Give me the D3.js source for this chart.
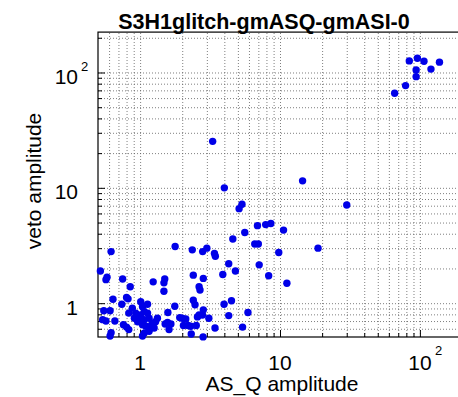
<!DOCTYPE html>
<html><head><meta charset="utf-8">
<script src="https://cdn.jsdelivr.net/npm/d3@7"></script>
<style>body{margin:0;background:#fff}svg{display:block}text{font-family:"Liberation Sans",Arial,Helvetica,sans-serif;fill:#000}</style>
</head><body><svg id="c" width="458" height="397"></svg>
<script>
const title = "S3H1glitch-gmASQ-gmASI-0";
const xLabel = "AS_Q amplitude";
const yLabel = "veto amplitude";
const xDomain = [0.5, 200];
const yDomain = [0.509, 224];
const majorTicks = [1, 10, 100];
const tickBase = ["1", "10", "10"];
const tickExp = ["", "", "2"];

const asqAmp = [84,96,107,138,94,120,94,79,66,14.5,3.3,4.0,30,8.6,10.6,9.8,18.7,8.3,11.2,5.1,5.35,5.6,4.6,6.9,7.9,6.6,7.0,7.1,
  0.62,1.78,2.36,2.8,3.0,3.4,3.45,4.3,3.9,4.8,0.52,0.57,0.58,0.75,0.85,1.24,1.5,1.48,1.48,2.4,2.83,2.64,2.68,
  0.64,0.82,0.80,0.74,1.01,1.13,0.55,0.61,0.54,0.57,0.66,0.76,0.80,0.83,0.62,0.61,1.04,1.07,
  1.58,1.77,1.57,1.66,1.61,1.51,1.92,2.0,2.12,2.04,2.2,2.3,2.4,2.47,2.83,2.79,2.57,2.64,3.1,2.52,2.32,2.82,3.43,3.98,4.5,4.3,5.9,5.4,
  0.88,0.93,1.01,1.07,0.98,1.07,1.13,1.16,0.91,0.96,1.04,1.1,1.19,1.22,1.29,1.33,1.26,1.16,1.04,0.83];
const vetoAmp = [126,133,125,123,105,107,92,77,66,11.5,25.3,10.0,7.1,4.9,4.3,2.75,3.0,1.73,1.49,6.6,7.2,4.1,3.6,4.7,4.8,3.26,3.26,2.15,
  2.8,3.1,2.9,2.8,3.0,2.7,2.55,2.2,1.77,1.9,1.9,1.6,1.68,1.62,1.39,1.53,1.62,1.5,1.27,1.75,1.64,1.39,1.3,
  1.08,1.09,1.12,0.98,1.03,0.98,0.86,0.86,0.72,0.70,0.70,0.65,0.62,0.59,0.555,0.52,0.52,0.55,
  0.83,0.94,0.68,0.66,0.59,0.66,0.75,0.74,0.73,0.64,0.64,0.63,1.06,0.97,0.875,0.79,0.76,0.79,0.74,0.64,0.54,0.51,0.61,0.98,1.05,0.78,0.83,0.62,
  0.905,0.82,0.79,0.845,0.74,0.72,0.82,0.74,0.74,0.69,0.65,0.63,0.63,0.67,0.69,0.74,0.61,0.57,0.93,0.82];

const L = 98, R = 462, T = 32.1, B = 337;
const svg = d3.select("#c");
const x = d3.scaleLog().domain(xDomain).range([L, R]);
const y = d3.scaleLog().domain(yDomain).range([B, T]);

const xGrid = x.ticks().filter(v => v > xDomain[0] * 1.001 && v < xDomain[1] * 0.999);
const yGrid = y.ticks().filter(v => v > yDomain[0] * 1.001 && v < yDomain[1] * 0.999);
const xMinor = xGrid.filter(v => !majorTicks.includes(v));
const yMinor = yGrid.filter(v => !majorTicks.includes(v));

// grid
const gridStyle = g => g.selectAll("line").attr("stroke", "#5e5e5e").attr("stroke-width", 0.8).attr("stroke-dasharray", "1,2");
svg.append("g").attr("transform", `translate(0,${B})`)
  .call(d3.axisBottom(x).tickValues(xGrid).tickSize(-(B - T)).tickFormat(""))
  .call(g => g.select(".domain").remove()).call(gridStyle);
svg.append("g").attr("transform", `translate(${L},0)`)
  .call(d3.axisLeft(y).tickValues(yGrid).tickSize(-(R - L)).tickFormat(""))
  .call(g => g.select(".domain").remove()).call(gridStyle);

// ticks (inward)
const tickStyle = g => { g.select(".domain").remove(); g.selectAll("line").attr("stroke", "#000").attr("stroke-width", 1); };
svg.append("g").attr("transform", `translate(0,${B})`).call(d3.axisBottom(x).tickValues(xMinor).tickSize(-4).tickFormat("")).call(tickStyle);
svg.append("g").attr("transform", `translate(0,${B})`).call(d3.axisBottom(x).tickValues(majorTicks).tickSize(-7).tickFormat("")).call(tickStyle);
svg.append("g").attr("transform", `translate(${L},0)`).call(d3.axisLeft(y).tickValues(yMinor).tickSize(-4).tickFormat("")).call(tickStyle);
svg.append("g").attr("transform", `translate(${L},0)`).call(d3.axisLeft(y).tickValues(majorTicks).tickSize(-7).tickFormat("")).call(tickStyle);

// frame
svg.append("rect").attr("x", L).attr("y", T).attr("width", R - L).attr("height", B - T)
  .attr("fill", "none").attr("stroke", "#000").attr("stroke-width", 1.2);

// points
const pts = asqAmp.map((a, i) => [a, vetoAmp[i]]);
svg.append("g").selectAll("circle").data(pts).join("circle")
  .attr("cx", d => x(d[0])).attr("cy", d => y(d[1])).attr("r", 3.7).attr("fill", "#0000e8");

// tick labels
const fs = 21;
majorTicks.forEach((v, i) => {
  svg.append("text").attr("x", x(v)).attr("y", 369.5).attr("font-size", fs).attr("text-anchor", "middle").text(tickBase[i]);
  if (tickExp[i]) svg.append("text").attr("x", x(v) + 15).attr("y", 355).attr("font-size", 13).text(tickExp[i]);
  svg.append("text").attr("x", 78).attr("y", y(v) + 11.5).attr("font-size", fs).attr("text-anchor", "end").text(tickBase[i]);
  if (tickExp[i]) svg.append("text").attr("x", 81).attr("y", y(v) - 1).attr("font-size", 13).text(tickExp[i]);
});

// labels
svg.append("text").attr("x", 264).attr("y", 28.5).attr("font-size", 21.5).attr("font-weight", "bold").attr("text-anchor", "middle").text(title);
svg.append("text").attr("x", 282).attr("y", 391).attr("font-size", 21).attr("text-anchor", "middle").text(xLabel);
svg.append("text").attr("transform", "translate(41,181) rotate(-90)").attr("font-size", 21).attr("text-anchor", "middle").text(yLabel);
</script></body></html>
